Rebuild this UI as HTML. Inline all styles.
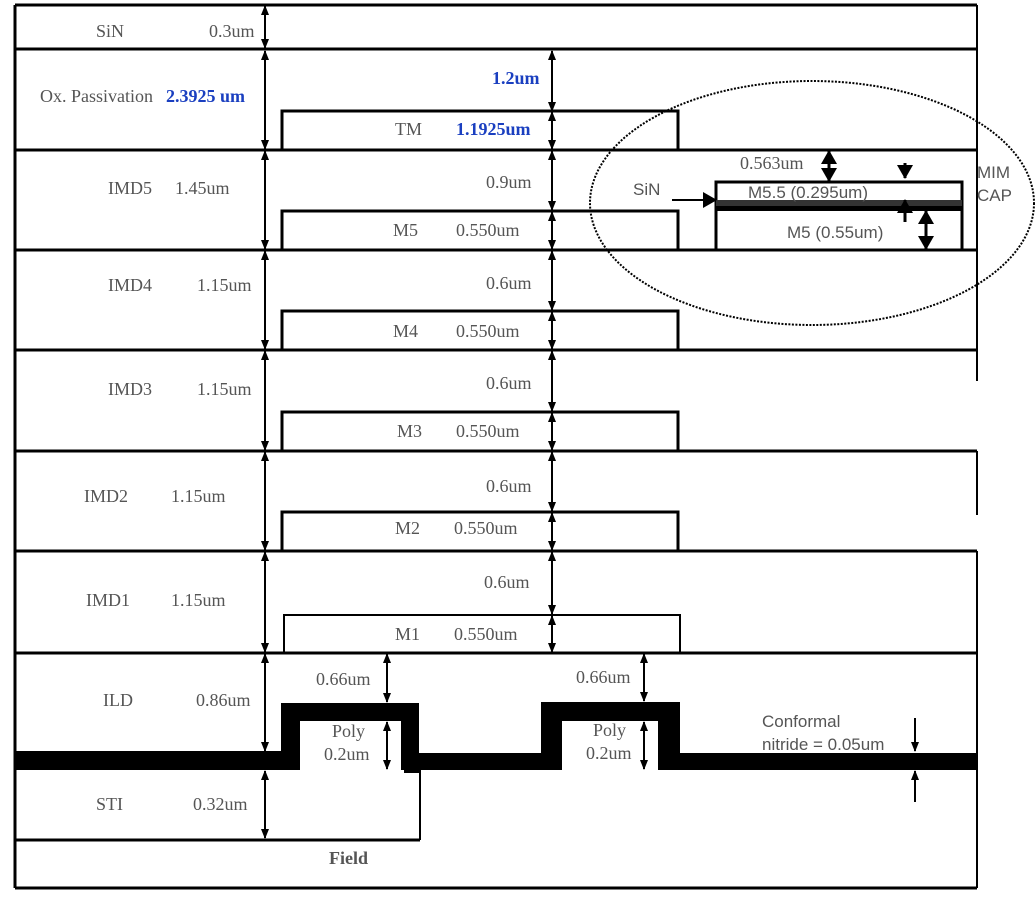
<!DOCTYPE html>
<html><head><meta charset="utf-8"><style>
html,body{margin:0;padding:0;background:#fff;}
svg{display:block;}
.t{font-family:"Liberation Serif",serif;font-size:18px;fill:#555;}
.b{font-family:"Liberation Serif",serif;font-size:18px;fill:#1a3fc0;font-weight:bold;}
.s{font-family:"Liberation Sans",sans-serif;font-size:17px;fill:#555;}
</style></head><body>
<svg width="1035" height="901" viewBox="0 0 1035 901" xmlns="http://www.w3.org/2000/svg">
<defs>
<marker id="a" markerWidth="10" markerHeight="10" refX="9" refY="5" orient="auto-start-reverse" markerUnits="userSpaceOnUse">
<path d="M0,1 L10,5 L0,9 z" fill="#000"/></marker>
<marker id="A" markerWidth="14" markerHeight="16" refX="13" refY="8" orient="auto-start-reverse" markerUnits="userSpaceOnUse">
<path d="M0,0 L14,8 L0,16 z" fill="#000"/></marker>
</defs>
<g stroke="#000" stroke-width="3" fill="none">
<line x1="15" y1="5" x2="15" y2="888"/>
<line x1="977" y1="5" x2="977" y2="381" stroke-width="2"/>
<line x1="977" y1="451" x2="977" y2="515" stroke-width="2"/>
<line x1="977" y1="551" x2="977" y2="888" stroke-width="2"/>
<line x1="15" y1="5" x2="977" y2="5"/>
<line x1="15" y1="49" x2="977" y2="49"/>
<line x1="15" y1="150" x2="977" y2="150"/>
<line x1="15" y1="250" x2="977" y2="250"/>
<line x1="15" y1="350" x2="977" y2="350"/>
<line x1="15" y1="451" x2="977" y2="451"/>
<line x1="15" y1="551" x2="977" y2="551"/>
<line x1="15" y1="653" x2="977" y2="653"/>
<line x1="15" y1="840" x2="420" y2="840"/>
<line x1="15" y1="888" x2="977" y2="888"/>
<line x1="420" y1="768" x2="420" y2="840" stroke-width="2"/>
<polyline points="282,150 282,111 678,111 678,150"/>
<polyline points="282,250 282,211 678,211 678,250"/>
<polyline points="282,350 282,311 678,311 678,350"/>
<polyline points="282,451 282,412 678,412 678,451"/>
<polyline points="282,551 282,512 678,512 678,551"/>
<polyline points="284,653 284,615 680,615 680,653" stroke-width="2"/>
</g>
<g fill="#000">
<rect x="15" y="751" width="270" height="19"/>
<rect x="281" y="703" width="137" height="67"/>
<rect x="404" y="703" width="15" height="70"/>
<rect x="418" y="753" width="125" height="17"/>
<rect x="541" y="702" width="139" height="68"/>
<rect x="680" y="753" width="297" height="17"/>
</g>
<g fill="#fff">
<rect x="300" y="721" width="101" height="49"/>
<rect x="562" y="721" width="96" height="49"/>
</g>
<rect x="716" y="182" width="246" height="68" fill="none" stroke="#000" stroke-width="3"/>
<rect x="716" y="200" width="246" height="6" fill="#333"/>
<rect x="716" y="206" width="246" height="5" fill="#000"/>
<ellipse cx="812" cy="203" rx="222" ry="122" fill="none" stroke="#000" stroke-width="2" stroke-dasharray="2,1.5"/>
<g stroke="#000" stroke-width="2" fill="none" marker-start="url(#a)" marker-end="url(#a)">
<line x1="265" y1="6" x2="265" y2="48"/>
<line x1="265" y1="51" x2="265" y2="149"/>
<line x1="265" y1="151" x2="265" y2="249"/>
<line x1="265" y1="251" x2="265" y2="349"/>
<line x1="265" y1="351" x2="265" y2="450"/>
<line x1="265" y1="452" x2="265" y2="550"/>
<line x1="265" y1="552" x2="265" y2="652"/>
<line x1="265" y1="654" x2="265" y2="751"/>
<line x1="265" y1="771" x2="265" y2="838"/>
<line x1="552" y1="51" x2="552" y2="111"/>
<line x1="552" y1="112" x2="552" y2="149"/>
<line x1="552" y1="151" x2="552" y2="210"/>
<line x1="552" y1="212" x2="552" y2="249"/>
<line x1="552" y1="251" x2="552" y2="310"/>
<line x1="552" y1="312" x2="552" y2="349"/>
<line x1="552" y1="351" x2="552" y2="411"/>
<line x1="552" y1="413" x2="552" y2="450"/>
<line x1="552" y1="452" x2="552" y2="511"/>
<line x1="552" y1="513" x2="552" y2="550"/>
<line x1="552" y1="552" x2="552" y2="614"/>
<line x1="552" y1="616" x2="552" y2="652"/>
<line x1="387" y1="654" x2="387" y2="702"/>
<line x1="387" y1="722" x2="387" y2="769"/>
<line x1="644" y1="654" x2="644" y2="701"/>
<line x1="644" y1="722" x2="644" y2="769"/>
</g>
<g stroke="#000" stroke-width="2" fill="none">
<line x1="915" y1="718" x2="915" y2="751" marker-end="url(#a)"/>
<line x1="915" y1="802" x2="915" y2="771" marker-end="url(#a)"/>
<line x1="672" y1="200" x2="716" y2="200" marker-end="url(#A)"/>
</g>
<g stroke="#000" stroke-width="3" fill="none">
<line x1="829" y1="151" x2="829" y2="181" marker-start="url(#A)" marker-end="url(#A)"/>
<line x1="905" y1="163" x2="905" y2="178" marker-end="url(#A)"/>
<line x1="905" y1="222" x2="905" y2="200" marker-end="url(#A)"/>
<line x1="926" y1="211" x2="926" y2="249" marker-start="url(#A)" marker-end="url(#A)"/>
</g>
<text class="t" x="96" y="37">SiN</text>
<text class="t" x="209" y="37">0.3um</text>
<text class="t" x="40" y="102">Ox. Passivation</text>
<text class="b" x="166" y="102">2.3925 um</text>
<text class="b" x="492" y="84">1.2um</text>
<text class="t" x="395" y="135">TM</text>
<text class="b" x="456" y="135">1.1925um</text>
<text class="t" x="108" y="194">IMD5</text>
<text class="t" x="175" y="194">1.45um</text>
<text class="t" x="486" y="188">0.9um</text>
<text class="t" x="393" y="236">M5</text>
<text class="t" x="456" y="236">0.550um</text>
<text class="t" x="108" y="291">IMD4</text>
<text class="t" x="197" y="291">1.15um</text>
<text class="t" x="486" y="289">0.6um</text>
<text class="t" x="393" y="337">M4</text>
<text class="t" x="456" y="337">0.550um</text>
<text class="t" x="108" y="395">IMD3</text>
<text class="t" x="197" y="395">1.15um</text>
<text class="t" x="486" y="389">0.6um</text>
<text class="t" x="397" y="437">M3</text>
<text class="t" x="456" y="437">0.550um</text>
<text class="t" x="84" y="502">IMD2</text>
<text class="t" x="171" y="502">1.15um</text>
<text class="t" x="486" y="492">0.6um</text>
<text class="t" x="395" y="534">M2</text>
<text class="t" x="454" y="534">0.550um</text>
<text class="t" x="86" y="606">IMD1</text>
<text class="t" x="171" y="606">1.15um</text>
<text class="t" x="484" y="588">0.6um</text>
<text class="t" x="395" y="640">M1</text>
<text class="t" x="454" y="640">0.550um</text>
<text class="t" x="103" y="706">ILD</text>
<text class="t" x="196" y="706">0.86um</text>
<text class="t" x="316" y="685">0.66um</text>
<text class="t" x="576" y="683">0.66um</text>
<text class="t" x="332" y="737">Poly</text>
<text class="t" x="324" y="760">0.2um</text>
<text class="t" x="593" y="736">Poly</text>
<text class="t" x="586" y="759">0.2um</text>
<text class="s" x="762" y="727">Conformal</text>
<text class="s" x="762" y="750">nitride = 0.05um</text>
<text class="t" x="96" y="810">STI</text>
<text class="t" x="193" y="810">0.32um</text>
<text class="t" x="329" y="864" style="font-weight:bold">Field</text>
<text class="s" x="633" y="195">SiN</text>
<text class="t" x="740" y="169">0.563um</text>
<text class="s" x="748" y="198">M5.5 (0.295um)</text>
<text class="s" x="787" y="238">M5 (0.55um)</text>
<text class="s" x="977" y="178">MIM</text>
<text class="s" x="977" y="201">CAP</text>
</svg>
</body></html>
